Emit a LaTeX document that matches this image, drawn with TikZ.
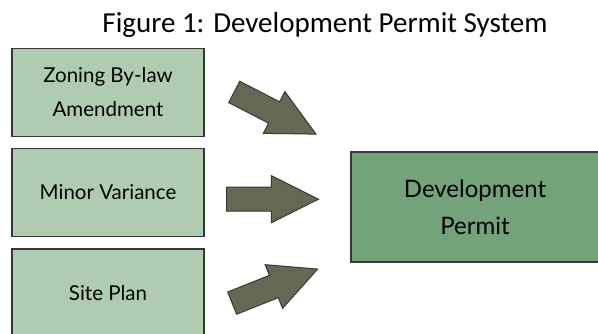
\documentclass[tikz,border=0pt]{standalone}
\usepackage{fontspec}
\setmainfont{Carlito}
\newfontfamily\stagefont{Lato}
\usetikzlibrary{shapes.arrows}

\definecolor{stagegreen}{RGB}{176,204,176}
\definecolor{permitgreen}{RGB}{116,162,122}
\definecolor{arrowolive}{RGB}{103,104,84}
\definecolor{edgegray}{RGB}{55,55,55}

\tikzset{
  stage/.style={draw=edgegray, line width=1.2pt, fill=stagegreen,
    minimum width=192pt, minimum height=88pt, align=center,
    font=\stagefont\fontsize{20.5}{34}\selectfont},
  permit/.style={stage, fill=permitgreen, minimum width=248pt,
    minimum height=110pt, font=\stagefont\fontsize{24}{37}\selectfont},
  fatarrow/.style={single arrow, draw=edgegray, fill=arrowolive, line width=1pt,
    minimum height=92pt, inner xsep=0pt, inner ysep=11.5pt,
    text height=0pt, text depth=0pt, single arrow head extend=11.5pt,
    single arrow tip angle=53, anchor=tail}
}

\begin{document}
\begin{tikzpicture}[x=1pt, y=1pt]
\useasboundingbox (0,0) rectangle (598,334);
\clip (0,0) rectangle (598,334);

\node (title) [anchor=base, font=\fontsize{29}{34}\selectfont] at (325,301) {Figure 1: Development Permit System};

% the three approvals on the left
\node (zoning) [stage] at (108,241.5) {Zoning By-law\\Amendment};
\node (minor) [stage] at (108,141.5) {Minor Variance};
\node (site) [stage] at (108,41) {Site Plan};

% the permit they all lead into
\node (permit) [permit] at (475,127) {Development\\Permit};

% block arrows
\node (arrZoning) [fatarrow, rotate=-27.3] at (233.8,242.3) {};
\node (arrMinor) [fatarrow] at (226,134.8) {};
\node (arrSite) [fatarrow, rotate=21.7] at (231.7,30.7) {};

\end{tikzpicture}
\end{document}
